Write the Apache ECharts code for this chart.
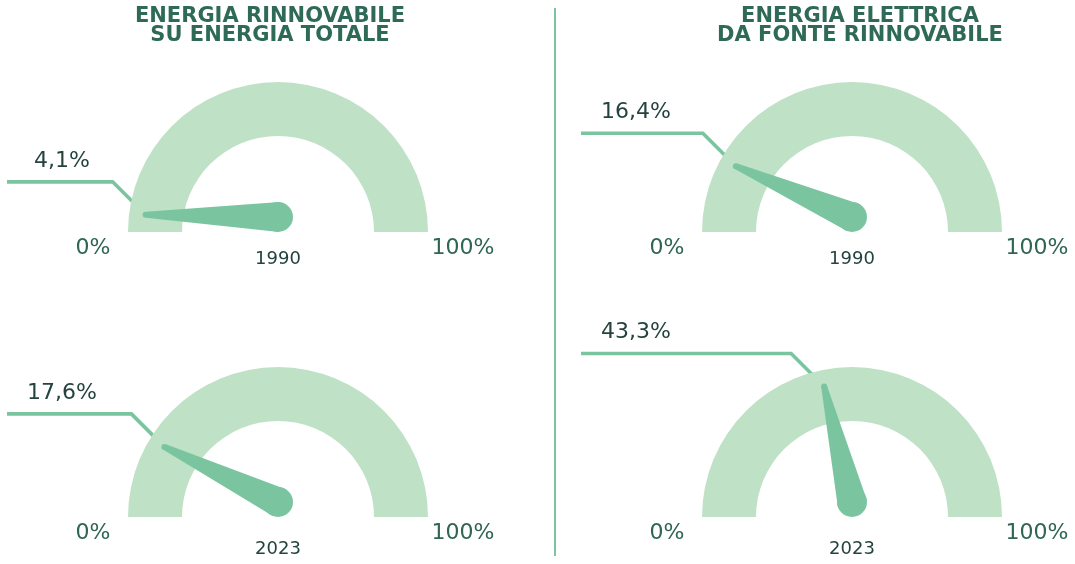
<!DOCTYPE html>
<html>
<head>
<meta charset="utf-8">
<script src="https://cdn.jsdelivr.net/npm/echarts@6/dist/echarts.min.js"></script>
<style>
  html, body { margin: 0; padding: 0; background: #ffffff; }
  #chart { width: 1075px; height: 564px; }
</style>
</head>
<body>
<div id="chart"></div>
<script>
// Quota di energia rinnovabile (%), 1990 e 2023
const panelTitles = ['ENERGIA RINNOVABILE\nSU ENERGIA TOTALE', 'ENERGIA ELETTRICA\nDA FONTE RINNOVABILE'];
const years = ['1990', '2023'];
const renewableOnTotal = [4.1, 17.6];
const renewableElectricity = [16.4, 43.3];
const scaleValues = [0, 100];
const scaleLabels = ['0%', '100%'];

// layout and styling
const COL_X = [278, 852];
const ROW_Y = [232, 517];
const TITLE_X = [270, 860];
const YEAR_OFFSET = [27, 32];
const OUTER_R = 150;
const BAND = 54;
const POINTER_LEN = 0.89;     // fraction of the outer radius
const HUB_R = 15;
const TIP_R = 3;
const ELBOW = 33;
const LEADER_REACH = 271;
const LABEL_SHIFT = 55;
const TICK_R = 185 / 150;
const FONT = '"DejaVu Sans", sans-serif';
const ARC = '#BFE1C6';
const GREEN = '#7AC5A0';
const DARK = '#24433F';
const TEAL = '#2E6652';
const TITLE = '#2E6A57';

const fmt = v => v.toFixed(1).replace('.', ',') + '%';

const gauges = [];
[renewableOnTotal, renewableElectricity].forEach((series, col) => {
  series.forEach((v, row) => gauges.push({ col, row, value: v, year: years[row] }));
});

// Tapered needle: a hub resting on the base line, narrowing to a rounded tip
function pointerItem(params, api) {
  const v = api.value(1);
  const pivot = api.coord([0, v]);
  const tip = api.coord([POINTER_LEN, v]);
  const base = [pivot[0], pivot[1] - HUB_R];
  const dx = tip[0] - base[0], dy = tip[1] - base[1];
  const d = Math.hypot(dx, dy);
  const u = [dx / d, dy / d];
  const n = [-u[1], u[0]];
  const a = (HUB_R - TIP_R) / d;
  const b = Math.sqrt(1 - a * a);
  // outer tangents between hub circle and tip circle
  const t1 = [-(u[0] * a + n[0] * b), -(u[1] * a + n[1] * b)];
  const t2 = [-(u[0] * a - n[0] * b), -(u[1] * a - n[1] * b)];
  const pts = [
    [base[0] + HUB_R * t1[0], base[1] + HUB_R * t1[1]],
    [tip[0] + TIP_R * t1[0], tip[1] + TIP_R * t1[1]],
    [tip[0] + TIP_R * t2[0], tip[1] + TIP_R * t2[1]],
    [base[0] + HUB_R * t2[0], base[1] + HUB_R * t2[1]]
  ];
  return {
    type: 'group',
    children: [
      { type: 'polygon', shape: { points: pts }, style: { fill: GREEN } },
      { type: 'circle', shape: { cx: base[0], cy: base[1], r: HUB_R }, style: { fill: GREEN } },
      { type: 'circle', shape: { cx: tip[0], cy: tip[1], r: TIP_R }, style: { fill: GREEN } }
    ]
  };
}

// Leader line from the needle tip out to the value label, plus scale end labels
function leaderItem(params, api) {
  const v = api.value(1);
  const pivot = api.coord([0, v]);
  const tip = api.coord([POINTER_LEN, v]);
  const knee = [tip[0] - ELBOW, tip[1] - ELBOW];
  const start = [pivot[0] - LEADER_REACH, knee[1]];
  const children = [
    { type: 'polyline', shape: { points: [start, knee, tip] },
      style: { stroke: GREEN, lineWidth: 3.6, fill: null } },
    { type: 'text', x: start[0] + LABEL_SHIFT, y: knee[1] - 21,
      style: { text: fmt(v), align: 'center', verticalAlign: 'middle',
               fontFamily: FONT, fontSize: 22, fill: DARK } }
  ];
  scaleValues.forEach((s, i) => {
    const p = api.coord([TICK_R, s]);
    children.push({ type: 'text', x: p[0], y: p[1] + 16.5,
      style: { text: scaleLabels[i], align: 'center', verticalAlign: 'middle',
               fontFamily: FONT, fontSize: 22, fill: TEAL } });
  });
  return { type: 'group', children };
}

const polar = [], angleAxis = [], radiusAxis = [], series = [];
gauges.forEach((g, i) => {
  const center = [COL_X[g.col], ROW_Y[g.row]];
  polar.push({ center, radius: OUTER_R });
  angleAxis.push({ polarIndex: i, type: 'value', min: scaleValues[0], max: scaleValues[1],
                   startAngle: 180, endAngle: 0, clockwise: true, show: false });
  radiusAxis.push({ polarIndex: i, type: 'value', min: 0, max: 1, show: false });

  series.push({
    type: 'custom', coordinateSystem: 'polar', polarIndex: i, z: 1, silent: true,
    renderItem: leaderItem, data: [[0, g.value]]
  });
  series.push({
    type: 'gauge', center, radius: OUTER_R, startAngle: 180, endAngle: 0,
    min: scaleValues[0], max: scaleValues[1], z: 2, silent: true,
    axisLine: { lineStyle: { width: BAND, color: [[1, ARC]] } },
    progress: { show: false }, pointer: { show: false }, anchor: { show: false },
    axisTick: { show: false }, splitLine: { show: false }, axisLabel: { show: false },
    title: { offsetCenter: [0, YEAR_OFFSET[g.row]], fontFamily: FONT, fontSize: 18, color: DARK },
    detail: { show: false },
    data: [{ value: g.value, name: g.year }]
  });
  series.push({
    type: 'custom', coordinateSystem: 'polar', polarIndex: i, z: 3, silent: true,
    renderItem: pointerItem, data: [[0, g.value]]
  });
});

const chart = echarts.init(document.getElementById('chart'), null, { renderer: 'canvas' });
chart.setOption({
  animation: false,
  backgroundColor: '#ffffff',
  title: panelTitles.map((t, i) => ({
    text: t, left: TITLE_X[i], top: 7, textAlign: 'center', padding: 0,
    textStyle: { fontFamily: FONT, fontWeight: 'bold', fontSize: 21, lineHeight: 19, color: TITLE }
  })),
  graphic: [{ type: 'line', shape: { x1: 555, y1: 8, x2: 555, y2: 556 },
              style: { stroke: GREEN, lineWidth: 2 }, silent: true }],
  polar, angleAxis, radiusAxis, series
});
</script>
</body>
</html>
